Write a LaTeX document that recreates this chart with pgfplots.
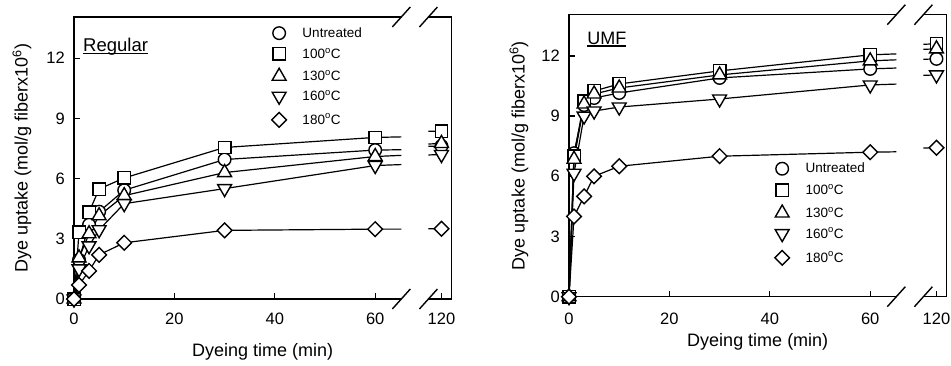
\documentclass[border=0pt]{standalone}
\usepackage{fontspec}
\setmainfont{Liberation Sans}
\usepackage{pgfplots}
\pgfplotsset{compat=1.18}
\usepackage{pgfplotstable}

\pgfplotstableread{
t     un    h100  h130  h160  h180
0     0     0     0     0     0
1     1.95  3.32  2.05  1.50  0.70
3     3.70  4.33  3.25  2.65  1.40
5     4.35  5.48  4.15  3.45  2.20
10    5.42  6.03  5.15  4.75  2.80
30    6.95  7.55  6.30  5.50  3.42
60    7.42  8.05  7.10  6.65  3.48
120   7.62  8.37  7.75  7.20  3.50
}\regular

\pgfplotstableread{
t     un     h100   h130   h160   h180
0     0      0      0      0      0
1     7.15   7.00   6.85   6.15   4.00
3     9.55   9.75   9.60   9.00   5.00
5     9.90   10.25  10.10  9.25   6.00
10    10.15  10.60  10.40  9.45   6.50
30    10.90  11.25  11.05  9.85   7.00
60    11.35  12.05  11.75  10.55  7.20
120   11.85  12.60  12.35  11.05  7.42
}\umf

\pgfplotsset{
  panel/.style={
    scale only axis, width=377.5pt, height=282pt,
    xmin=0, xmax=75.2, ymin=0, ymax=14.05, clip=false,
    axis line style={draw=none},
    tick align=inside, xtick pos=left, ytick pos=left,
    xtick={0,20,40,60,73.2}, xticklabels={0,20,40,60,120},
    ytick={0,3,6,9,12},
    major tick length=6pt,
    every tick/.style={black, line width=1.3pt},
    /pgf/number format/assume math mode=true,
    ticklabel style={font=\fontsize{16.5}{19}\selectfont, inner sep=0pt},
    yticklabel style={xshift=-9pt},
    label style={font=\fontsize{18}{21}\selectfont, inner sep=0pt},
    ylabel={Dye uptake (mol/g fiberx10\textsuperscript{6})},
    xlabel={Dyeing time (min)},
    legend image code/.code={\draw[##1] plot coordinates {(0pt,0pt)};},
    legend cell align=left,
  },
  conn/.style={scale only axis, height=282pt, ymin=0, ymax=14.05,
    hide axis, clip=true, anchor=south west},
  cl/.style={black, line width=1.2pt, no marks},
  s0/.style={black, line width=1.2pt, mark=*, mark size=6.3pt, mark options={solid, fill=white, line width=1.4pt}},
  s1/.style={black, line width=1.2pt, mark=square*, mark size=6.2pt, mark options={solid, fill=white, line width=1.4pt}},
  s2/.style={black, line width=1.2pt, mark=triangle*, mark size=8pt, mark options={solid, fill=white, line width=1.4pt}},
  s3/.style={black, line width=1.2pt, mark=triangle*, mark size=8pt, mark options={solid, fill=white, line width=1.4pt, rotate=180}},
  s4/.style={black, line width=1.2pt, mark=square*, mark size=5.2pt, mark options={solid, fill=white, line width=1.4pt, rotate=45}},
}

\newcommand{\ul}[1]{{\setbox0\hbox{#1}\rlap{\rule[-2.5pt]{\wd0}{1.4pt}}\box0}}

% lines from 60 min to 120 min, drawn in real time units
\newcommand{\connplots}[1]{%
  \addplot[cl] table[x=t, y=un, skip coords between index={0}{6}] {#1};
  \addplot[cl] table[x=t, y=h100, skip coords between index={0}{6}] {#1};
  \addplot[cl] table[x=t, y=h130, skip coords between index={0}{6}] {#1};
  \addplot[cl] table[x=t, y=h160, skip coords between index={0}{6}] {#1};
  \addplot[cl] table[x=t, y=h180, skip coords between index={0}{6}] {#1};
}
\newcommand{\mainplots}[1]{%
  \addplot[s0, skip coords between index={7}{8}] table[x=t, y=un] {#1};
  \addplot[s1, skip coords between index={7}{8}] table[x=t, y=h100] {#1};
  \addplot[s2, skip coords between index={7}{8}] table[x=t, y=h130] {#1};
  \addplot[s3, skip coords between index={7}{8}] table[x=t, y=h160] {#1};
  \addplot[s4, skip coords between index={7}{8}] table[x=t, y=h180] {#1};
  \legend{Untreated, 100\textsuperscript{o}C, 130\textsuperscript{o}C, 160\textsuperscript{o}C, 180\textsuperscript{o}C}
  % 120 min points, placed after the axis break
  \addplot[s0, only marks, forget plot, skip coords between index={0}{7}] table[x expr=73.2, y=un] {#1};
  \addplot[s1, only marks, forget plot, skip coords between index={0}{7}] table[x expr=73.2, y=h100] {#1};
  \addplot[s2, only marks, forget plot, skip coords between index={0}{7}] table[x expr=73.2, y=h130] {#1};
  \addplot[s3, only marks, forget plot, skip coords between index={0}{7}] table[x expr=73.2, y=h160] {#1};
  \addplot[s4, only marks, forget plot, skip coords between index={0}{7}] table[x expr=73.2, y=h180] {#1};
}

\newcommand{\breakframe}{%
  \draw[line width=1.4pt] (axis cs:65.2,0) -- (axis cs:0,0) -- (axis cs:0,14.05) -- (axis cs:65.2,14.05);
  \draw[line width=1.4pt] (axis cs:70.6,14.05) -- (axis cs:75.2,14.05) -- (axis cs:75.2,0) -- (axis cs:70.6,0);
  \draw[line width=1.4pt] (axis cs:65.2,14.05) ++(-9pt,-10pt) -- ++(18pt,20pt);
  \draw[line width=1.4pt] (axis cs:70.6,14.05) ++(-9pt,-10pt) -- ++(18pt,20pt);
  \draw[line width=1.4pt] (axis cs:65.2,0) ++(-9pt,-10pt) -- ++(18pt,20pt);
  \draw[line width=1.4pt] (axis cs:70.6,0) ++(-9pt,-10pt) -- ++(18pt,20pt);
}

\begin{document}
\begin{tikzpicture}
\useasboundingbox (0,0) rectangle (951pt,-365pt);

% ---------- Regular ----------
\begin{axis}[conn, at={(74pt,-299pt)}, width=327.3pt, xmin=0, xmax=65.2]
\connplots{\regular}
\end{axis}
\begin{axis}[conn, at={(428.4pt,-299pt)}, width=23.1pt, xmin=117.4, xmax=122]
\connplots{\regular}
\end{axis}
\begin{axis}[panel, at={(74pt,-299pt)}, anchor=south west,
  xticklabel style={yshift=-14pt},
  xlabel style={at={(axis description cs:0.5,-0.156)}, anchor=north},
  ylabel style={at={(axis description cs:-0.138,0.5)}, anchor=center},
  legend style={draw=none, fill=none, inner sep=0pt, outer sep=0pt,
    at={(axis cs:39.4,13.56)}, anchor=north west,
    font=\fontsize{13.5}{16}\selectfont, row sep=8.2pt, column sep=16pt,
    nodes={inner sep=0pt, outer sep=0pt}},
]
\mainplots{\regular}
\breakframe
\node[anchor=base west, inner sep=0pt, font=\fontsize{18.5}{21}\selectfont] at (axis cs:1.8,12.31) {\ul{Regular}};
\end{axis}

% ---------- UMF ----------
\begin{axis}[conn, at={(569pt,-296.7pt)}, width=327.3pt, xmin=0, xmax=65.2]
\connplots{\umf}
\end{axis}
\begin{axis}[conn, at={(923.4pt,-296.7pt)}, width=23.1pt, xmin=117.4, xmax=122]
\connplots{\umf}
\end{axis}
\begin{axis}[panel, at={(569pt,-296.7pt)}, anchor=south west,
  xticklabel style={yshift=-16pt},
  xlabel style={at={(axis description cs:0.5,-0.128)}, anchor=north},
  ylabel style={at={(axis description cs:-0.1325,0.5)}, anchor=center},
  legend style={draw=none, fill=none, inner sep=0pt, outer sep=0pt,
    at={(axis cs:41.0,6.69)}, anchor=north west,
    font=\fontsize{13.5}{16}\selectfont, row sep=8.8pt, column sep=16pt,
    nodes={inner sep=0pt, outer sep=0pt}},
]
\mainplots{\umf}
\breakframe
\node[anchor=base west, inner sep=0pt, font=\fontsize{18}{21}\selectfont] at (axis cs:3.6,12.58) {\ul{UMF}};
\end{axis}
\end{tikzpicture}
\end{document}
